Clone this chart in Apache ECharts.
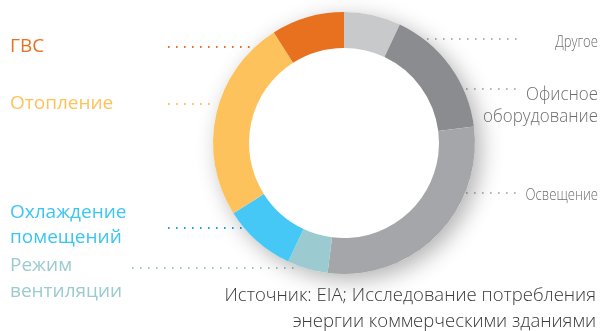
<!DOCTYPE html>
<html>
<head>
<meta charset="utf-8">
<script src="https://cdn.jsdelivr.net/npm/echarts@6/dist/echarts.min.js"></script>
<style>
  html, body { margin: 0; padding: 0; background: #ffffff; }
  #chart { width: 602px; height: 331px; }
</style>
</head>
<body>
<div id="chart"></div>
<script>
// Energy use in commercial buildings by end use, % (clockwise from the top)
const categories = ['Другое', 'Офисное\nоборудование', 'Освещение', 'Режим\nвентиляции', 'Охлаждение\nпомещений', 'Отопление', 'ГВС'];
const shares = [7, 16, 29, 5, 9, 25, 9];
const colors = ['#c8c9cb', '#8b8c90', '#a5a6a9', '#9bcbd0', '#45c8f6', '#fec25c', '#e8711f'];
const sourceNote = 'Источник: EIA; Исследование потребления\nэнергии коммерческими зданиями';

// Label placement: side, text anchor, text centre y, dotted leader from x0 to x1 at y
const labelLayout = [
  { side: 'right', x: 598, y: 42, lx0: 363, lx1: 518, ly: 39, size: 16, sx: 0.82, color: '#6d6e71', dot: '#b8b5aa' },
  { side: 'right', x: 598, y: 106, lx0: 450, lx1: 518, ly: 89, size: 18, sx: 0.94, color: '#6d6e71', dot: '#b8b5aa', lh: 22 },
  { side: 'right', x: 598, y: 195, lx0: 450, lx1: 518, ly: 193, size: 16, sx: 0.82, color: '#6d6e71', dot: '#b8b5aa' },
  { side: 'left', x: 10, y: 279, lx0: 132, lx1: 298, ly: 268, size: 19, color: '#9bcbd0', dot: '#9bcbd0', lh: 26 },
  { side: 'left', x: 10, y: 225.5, lx0: 168, lx1: 262, ly: 228, size: 19, color: '#3cc5f4', dot: '#1aa6dc', lh: 25 },
  { side: 'left', x: 10, y: 104, lx0: 168, lx1: 213, ly: 104, size: 19, color: '#fec25c', dot: '#fec25c' },
  { side: 'left', x: 10, y: 47, lx0: 168, lx1: 283, ly: 47, size: 19, color: '#e8711f', dot: '#e8711f' }
];

const center = [344, 143];

const chart = echarts.init(document.getElementById('chart'), null, { renderer: 'canvas' });

const graphics = [];
categories.forEach((name, i) => {
  const L = labelLayout[i];
  graphics.push({
    type: 'line',
    silent: true,
    shape: { x1: L.lx0, y1: L.ly, x2: L.lx1, y2: L.ly },
    style: { stroke: L.dot, lineWidth: 2, lineDash: [1.6, 6.4], lineCap: 'butt' },
    z: 1
  });
  graphics.push({
    type: 'text',
    silent: true,
    x: L.x,
    y: L.y,
    scaleX: L.sx || 1,
    style: {
      text: name,
      fill: L.color,
      font: (L.side === 'right' ? '300 ' : '400 ') + L.size + 'px "Open Sans", sans-serif',
      align: L.side === 'right' ? 'right' : 'left',
      verticalAlign: 'middle',
      lineHeight: L.lh || L.size + 4
    },
    z: 5
  });
});
graphics.push({
  type: 'text',
  silent: true,
  x: 596,
  y: 309,
  style: {
    text: sourceNote,
    fill: '#3a3a3a',
    font: '300 18.5px "Open Sans", sans-serif',
    align: 'right',
    verticalAlign: 'middle',
    lineHeight: 26
  },
  z: 5
});

chart.setOption({
  animation: false,
  backgroundColor: '#ffffff',
  graphic: graphics,
  series: [
    {
      // solid disc underneath that casts the soft shadow around the ring
      type: 'pie',
      silent: true,
      center: center,
      radius: [0, 131],
      startAngle: 90,
      label: { show: false },
      labelLine: { show: false },
      itemStyle: {
        color: '#ffffff',
        shadowBlur: 22,
        shadowColor: 'rgba(0,0,0,0.3)',
        shadowOffsetX: 6,
        shadowOffsetY: 6
      },
      data: [{ value: 1 }],
      z: 2
    },
    {
      type: 'pie',
      silent: true,
      center: center,
      radius: [95, 131],
      startAngle: 90,
      clockwise: true,
      label: { show: false },
      labelLine: { show: false },
      itemStyle: { borderWidth: 0 },
      data: categories.map((name, i) => ({
        name: name,
        value: shares[i],
        itemStyle: { color: colors[i] }
      })),
      z: 3
    }
  ]
});
</script>
</body>
</html>
